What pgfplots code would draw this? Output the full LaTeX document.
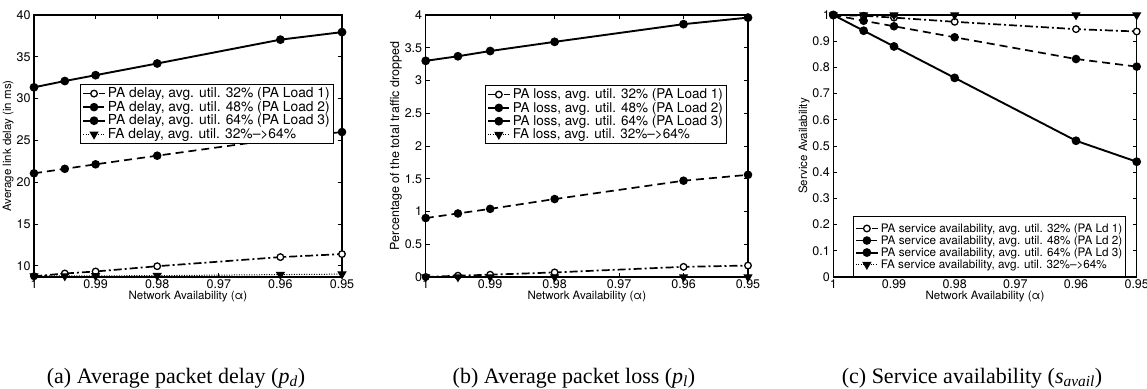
\documentclass[border=0pt]{standalone}
\usepackage{fontspec}
\setmainfont{TeX Gyre Heros}
\newfontfamily\capfont{Liberation Serif}
\usepackage{pgfplots}
\pgfplotsset{compat=1.18}

\pgfplotsset{
  matstyle/.style={
    scale only axis,
    anchor=south west,
    x dir=reverse,
    xmin=0.95, xmax=1,
    xtick={0.95,0.96,0.97,0.98,0.99,1},
    xticklabels={0.95,0.96,0.97,0.98,0.99,1},
    axis line style={line width=1.2pt},
    every tick/.style={black,line width=0.8pt},
    major tick length=4pt,
    tick align=inside,
    clip=false,
    tick label style={font=\fontsize{12.5}{14}\selectfont},
    xticklabel style={yshift=1pt},
    label style={font=\fontsize{11.5}{13}\selectfont},
    xlabel={Network Availability (α)},
    xlabel style={yshift=4pt},
    ylabel style={yshift=-4pt},
    legend style={draw=black, line width=0.8pt,
      fill=white, inner sep=1.5pt, cells={anchor=west}},
    legend image code/.code={
      \draw[mark repeat=2,mark phase=2,##1] plot coordinates {(0pt,0pt)(11pt,0pt)(22pt,0pt)};
    },
  },
  ldone/.style={black, line width=1.7pt, dash pattern=on 8pt off 3pt on 2pt off 3pt,
    mark=*, mark size=3.3pt, mark options={solid, fill=white, line width=1.3pt}},
  ldtwo/.style={black, line width=1.7pt, dash pattern=on 8pt off 5pt,
    mark=*, mark size=3.4pt, mark options={solid, fill=black}},
  ldthree/.style={black, line width=1.9pt,
    mark=*, mark size=3.4pt, mark options={solid, fill=black}},
  fa/.style={black, line width=1pt, dash pattern=on 1pt off 1.5pt,
    mark=triangle*, mark size=4.4pt, mark options={solid, fill=black, rotate=180}},
}

\begin{document}
\begin{tikzpicture}[x=1pt,y=1pt]
\useasboundingbox (0,0) rectangle (1147,388);

% ---------------- panel (a)
\begin{axis}[matstyle, at={(34pt,111pt)}, width=308pt, height=262pt,
  ymin=8.66, ymax=40,
  ytick={10,15,20,25,30,35,40}, yticklabels={10,15,20,25,30,35,40},
  ylabel={Average link delay (in ms)},
  legend style={at={(0.15,0.737)}, anchor=north west,
    font=\fontsize{13.8}{15}\selectfont, row sep=-2pt}]
\addplot[ldone] coordinates {(1,8.75)(0.995,9.08)(0.99,9.32)(0.98,9.95)(0.96,11.04)(0.95,11.4)};
\addplot[ldtwo] coordinates {(1,21.06)(0.995,21.6)(0.99,22.14)(0.98,23.17)(0.96,25.2)(0.95,26.0)};
\addplot[ldthree] coordinates {(1,31.35)(0.995,32.1)(0.99,32.8)(0.98,34.2)(0.96,37.05)(0.95,37.95)};
\addplot[fa] coordinates {(1,8.78)(0.995,8.78)(0.99,8.8)(0.98,8.82)(0.96,8.95)(0.95,9.0)};
\legend{{PA delay, avg. util. 32\% (PA Load 1)},{PA delay, avg. util. 48\% (PA Load 2)},{PA delay, avg. util. 64\% (PA Load 3)},{FA delay, avg. util. 32\%–>64\%}}
\end{axis}

% ---------------- panel (b)
\begin{axis}[matstyle, at={(425.7pt,111pt)}, width=322.3pt, height=262pt,
  ymin=0, ymax=4,
  ytick={0,0.5,1,1.5,2,2.5,3,3.5,4}, yticklabels={0,0.5,1,1.5,2,2.5,3,3.5,4},
  ylabel={Percentage of the total traffic dropped},
  ylabel style={font=\fontsize{12.5}{14}\selectfont},
  legend style={at={(0.184,0.733)}, anchor=north west,
    font=\fontsize{13.5}{15}\selectfont, row sep=-2pt}]
\addplot[ldone] coordinates {(1,0.0)(0.995,0.02)(0.99,0.035)(0.98,0.07)(0.96,0.155)(0.95,0.175)};
\addplot[ldtwo] coordinates {(1,0.90)(0.995,0.97)(0.99,1.04)(0.98,1.19)(0.96,1.47)(0.95,1.56)};
\addplot[ldthree] coordinates {(1,3.30)(0.995,3.37)(0.99,3.45)(0.98,3.59)(0.96,3.86)(0.95,3.96)};
\addplot[fa] coordinates {(1,0)(0.995,0)(0.99,0)(0.98,0)(0.96,0)(0.95,0)};
\legend{{PA loss, avg. util. 32\% (PA Load 1)},{PA loss, avg. util. 48\% (PA Load 2)},{PA loss, avg. util. 64\% (PA Load 3)},{FA loss, avg. util. 32\%–>64\%}}
\end{axis}

% ---------------- panel (c)
\begin{axis}[matstyle, at={(833.3pt,111pt)}, width=303.4pt, height=262pt,
  ymin=0, ymax=1,
  ytick={0,0.1,0.2,0.3,0.4,0.5,0.6,0.7,0.8,0.9,1}, yticklabels={0,0.1,0.2,0.3,0.4,0.5,0.6,0.7,0.8,0.9,1},
  ylabel={Service Availability},
  legend style={at={(0.065,0)}, anchor=south west,
    font=\fontsize{11.7}{13}\selectfont, row sep=-2pt, inner ysep=5pt}]
\addplot[ldone] coordinates {(1,1)(0.995,0.997)(0.99,0.99)(0.98,0.974)(0.96,0.946)(0.95,0.937)};
\addplot[ldtwo] coordinates {(1,1)(0.995,0.978)(0.99,0.957)(0.98,0.915)(0.96,0.832)(0.95,0.803)};
\addplot[ldthree] coordinates {(1,1)(0.995,0.94)(0.99,0.88)(0.98,0.76)(0.96,0.52)(0.95,0.44)};
\addplot[fa] coordinates {(1,1)(0.995,1)(0.99,1)(0.98,1)(0.96,1)(0.95,1)};
\legend{{PA service availability, avg. util. 32\% (PA Ld 1)},{PA service availability, avg. util. 48\% (PA Ld 2)},{PA service availability, avg. util. 64\% (PA Ld 3)},{FA service availability, avg. util. 32\%–>64\%}}
\end{axis}

% captions
\node[anchor=base, inner sep=0pt, font=\capfont\fontsize{22}{25}\selectfont] at (176,5) {(a) Average packet delay (\textit{p}\textsubscript{\textit{d}})};
\node[anchor=base, inner sep=0pt, font=\capfont\fontsize{22}{25}\selectfont] at (574,5) {(b) Average packet loss (\textit{p}\textsubscript{\textit{l}})};
\node[anchor=base, inner sep=0pt, font=\capfont\fontsize{22}{25}\selectfont] at (972,5) {(c) Service availability (\textit{s}\textsubscript{\textit{avail}})};
\end{tikzpicture}
\end{document}
